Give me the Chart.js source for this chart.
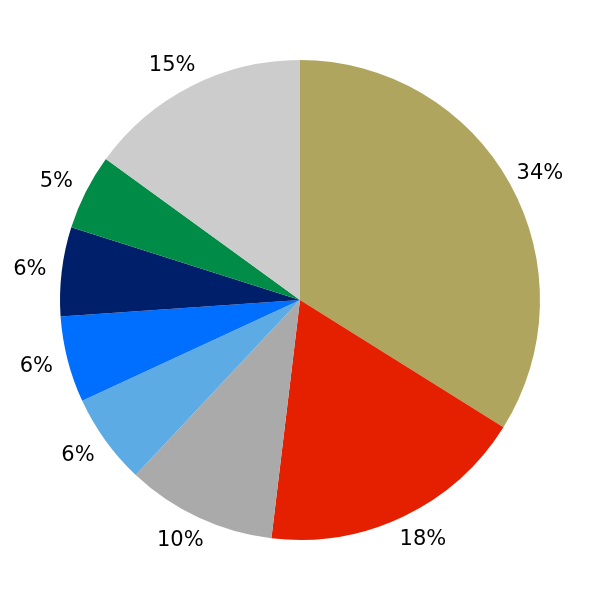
<!DOCTYPE html>
<html>
<head>
<meta charset="utf-8">
<script src="https://cdn.jsdelivr.net/npm/chart.js@4"></script>
<style>
  html, body { margin: 0; padding: 0; background: #fff; }
  #wrap { width: 600px; height: 600px; }
</style>
</head>
<body>
<div id="wrap"><canvas id="myChart" width="600" height="600"></canvas></div>
<script>
// slice shares (percent), clockwise from 12 o'clock
const categories = ['A', 'B', 'C', 'D', 'E', 'F', 'G', 'H'];
const values = [33.9, 18.0, 10.1, 6.1, 5.8, 6.0, 5.1, 15.0];
const colors = ['#b0a55f', '#e42000', '#aaaaaa', '#5dabe5', '#006eff', '#001f6b', '#008c46', '#cccccc'];

// percent labels drawn outside the slices
const outsideLabels = {
    id: 'outsideLabels',
    afterDatasetsDraw(chart) {
        const ctx = chart.ctx;
        const meta = chart.getDatasetMeta(0);
        const total = values.reduce((a, b) => a + b, 0);
        ctx.save();
        ctx.font = '21px "DejaVu Sans"';
        ctx.fillStyle = '#000';
        ctx.textAlign = 'center';
        ctx.textBaseline = 'middle';
        meta.data.forEach((arc, i) => {
            const mid = (arc.startAngle + arc.endAngle) / 2;
            const r = arc.outerRadius * 1.1;
            const c = Math.cos(mid);
            const x = arc.x + c * r + (c > 0 ? 9 : -8);
            const y = arc.y + Math.sin(mid) * r + 1;
            ctx.fillText(Math.round(values[i] / total * 100) + '%', x, y);
        });
        ctx.restore();
    }
};

const ctx = document.getElementById('myChart').getContext('2d');
new Chart(ctx, {
    type: 'pie',
    data: {
        labels: categories,
        datasets: [{
            data: values,
            backgroundColor: colors,
            borderWidth: 0
        }]
    },
    options: {
        responsive: false,
        animation: false,
        layout: { padding: 60 },
        plugins: {
            legend: { display: false },
            tooltip: { enabled: false }
        }
    },
    plugins: [outsideLabels]
});
</script>
</body>
</html>
